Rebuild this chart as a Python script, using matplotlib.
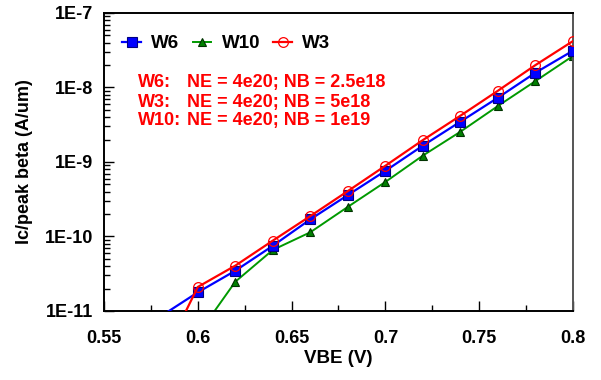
import numpy as np
import matplotlib
matplotlib.use("Agg")
import matplotlib.pyplot as plt
from matplotlib.ticker import FixedLocator, LogLocator, NullFormatter

# ========== Data ==========
vbe = [0.58, 0.60, 0.62, 0.64, 0.66, 0.68, 0.70, 0.72, 0.74, 0.76, 0.78, 0.80]
w6 = [8.4e-12, 1.78e-11, 3.47e-11, 7.5e-11, 1.70e-10, 3.6e-10, 7.6e-10,
      1.66e-9, 3.48e-9, 7.3e-9, 1.58e-8, 3.12e-8]
w10 = [None, 4.8e-12, 2.47e-11, 6.6e-11, 1.14e-10, 2.5e-10, 5.4e-10,
       1.22e-9, 2.55e-9, 5.65e-9, 1.22e-8, 2.65e-8]
w3 = [2.0e-12, 2.1e-11, 4.06e-11, 8.8e-11, 1.88e-10, 4.07e-10, 8.9e-10,
      1.97e-9, 4.18e-9, 9.05e-9, 2.0e-8, 4.2e-8]

notes_lbl = ["W6:", "W3:", "W10:"]
notes_txt = ["NE = 4e20; NB = 2.5e18", "NE = 4e20; NB = 5e18", "NE = 4e20; NB = 1e19"]

x_ticks = [0.55, 0.6, 0.65, 0.7, 0.75, 0.8]
x_ticklabels = ["0.55", "0.6", "0.65", "0.7", "0.75", "0.8"]
y_ticks = [1e-11, 1e-10, 1e-9, 1e-8, 1e-7]
y_ticklabels = ["1E-11", "1E-10", "1E-9", "1E-8", "1E-7"]

plt.rcParams['font.family'] = ['Liberation Sans', 'DejaVu Sans']
plt.rcParams['font.weight'] = 'bold'

fig = plt.figure(figsize=(6.01, 3.8), dpi=100)
ax = fig.add_axes([0.173, 0.1816, 0.7804, 0.7842])

def clean(x, y):
    pts = [(a, b) for a, b in zip(x, y) if b is not None]
    return [p[0] for p in pts], [p[1] for p in pts]

x, y = clean(vbe, w6)
ax.plot(x, y, color="#0000ff", lw=1.6, marker="s", ms=6.5, mfc="#0000ff",
        mec="#000080", mew=0.8, label="W6", zorder=3)
x, y = clean(vbe, w10)
ax.plot(x, y, color="#009900", lw=1.4, marker="^", ms=6, mfc="#008000",
        mec="#003300", mew=0.8, label="W10", zorder=2)
x, y = clean(vbe, w3)
ax.plot(x, y, color="#ff0000", lw=1.6, marker="o", ms=7, mfc="none",
        mec="#ff0000", mew=0.9, label="W3", zorder=4)

ax.set_yscale("log")
ax.set_xlim(0.55, 0.8)
ax.set_ylim(1e-11, 1e-7)

ax.xaxis.set_major_locator(FixedLocator(x_ticks))
ax.set_xticklabels(x_ticklabels)
ax.xaxis.set_minor_locator(FixedLocator([0.575, 0.625, 0.675, 0.725, 0.775]))
ax.yaxis.set_major_locator(FixedLocator(y_ticks))
ax.set_yticklabels(y_ticklabels)
ax.yaxis.set_minor_locator(LogLocator(base=10, subs=np.arange(2, 10)))
ax.yaxis.set_minor_formatter(NullFormatter())

ax.tick_params(which="both", direction="in", top=False, right=False,
               labelsize=13, width=1.0)
ax.tick_params(axis="x", which="major", pad=14)
ax.tick_params(axis="y", which="major", pad=8)
ax.tick_params(which="major", length=7)
ax.tick_params(which="minor", length=4)
for lbl in ax.get_xticklabels() + ax.get_yticklabels():
    lbl.set_fontweight("bold")

for side in ["left", "bottom", "top"]:
    ax.spines[side].set_linewidth(1.4)
ax.spines["right"].set_linewidth(1.4)
ax.spines["right"].set_color("#555555")

ax.set_xlabel("VBE (V)", fontsize=13.5, fontweight="bold", labelpad=2)
ax.set_ylabel("Ic/peak beta (A/um)", fontsize=13, fontweight="bold", labelpad=8)

leg = ax.legend(loc="upper left", ncol=3, frameon=False, fontsize=13.5,
                handlelength=1.0, handletextpad=0.55, columnspacing=0.7,
                bbox_to_anchor=(0.011, 0.97), borderaxespad=0.3)
for t in leg.get_texts():
    t.set_fontweight("bold")

# annotations (axes coords)
ys = [0.767, 0.70, 0.64]
for lbl, txt, yy in zip(notes_lbl, notes_txt, ys):
    ax.text(0.072, yy, lbl, transform=ax.transAxes, color="red",
            fontsize=13, fontweight="bold", va="center")
    ax.text(0.176, yy, txt, transform=ax.transAxes, color="red",
            fontsize=13, fontweight="bold", va="center")

fig.savefig("out.png", dpi=100)
